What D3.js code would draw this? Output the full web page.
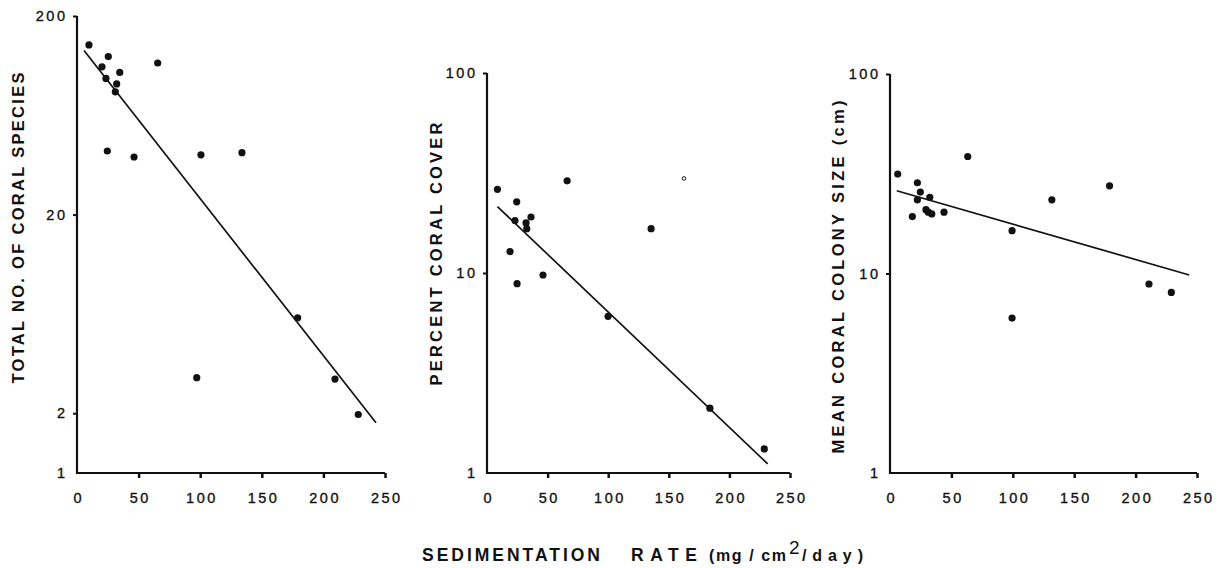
<!DOCTYPE html>
<html>
<head>
<meta charset="utf-8">
<script src="https://cdn.jsdelivr.net/npm/d3@7"></script>
<style>
  html, body { margin:0; padding:0; background:#fff; }
  svg { display:block; }
  text { font-family:"Liberation Sans", Arial, Helvetica, sans-serif; fill:#111; }
</style>
</head>
<body>
<svg id="chart" width="1227" height="568"></svg>
<script>
// ---- data (x = sedimentation rate, mg/cm2/day) ----
// Panel A: total number of coral species
const sedA     = [9.7, 25.4, 20.3, 34.7, 23.5, 32.2, 31.1, 65.5, 24.6, 46.3, 100.6, 133.9, 179.1, 97.2, 209.4, 228.3];
const speciesA = [143, 125, 111, 104, 97, 91, 83, 116, 41.8, 39, 40, 41, 6.05, 3.02, 2.97, 1.97];
const fitA     = [[5.7, 134], [242.7, 1.79]];

// Panel B: percent coral cover (one open-circle point)
const sedB     = [8.6, 66.1, 24.5, 23.1, 36.3, 32.2, 32.8, 135.4, 19.0, 46.2, 24.8, 99.9, 183.9, 228.8];
const coverB   = [26.2, 28.9, 22.7, 18.3, 19.05, 17.8, 16.65, 16.65, 12.8, 9.77, 8.84, 6.07, 2.11, 1.32];
const openB    = [[162.5, 29.7]];
const fitB     = [[8.6, 21.5], [231.6, 1.11]];

// Panel C: mean coral colony size (cm)
const sedC     = [6.3, 63.3, 22.3, 24.7, 32.4, 22.3, 18.2, 29.3, 31.2, 34.0, 44.0, 178.8, 131.8, 99.4, 99.4, 210.9, 229.1];
const sizeC    = [31.5, 38.6, 28.5, 25.6, 24.1, 23.4, 19.3, 20.9, 20.3, 19.9, 20.3, 27.5, 23.4, 16.4, 5.98, 8.86, 8.04];
const fitC     = [[5.5, 26.0], [243.7, 9.83]];

const xTicks = [0, 50, 100, 150, 200, 250];

const panels = [
  { xs:sedA, ys:speciesA, fit:fitA, open:[], yMax:200, yTicks:[1,2,20,200],
    label:'TOTAL NO. OF CORAL SPECIES', labelX:18, labelY:228, labelLen:311,
    left:77, right:385, top:16, bottom:473 },
  { xs:sedB, ys:coverB, fit:fitB, open:openB, yMax:100, yTicks:[1,10,100],
    label:'PERCENT CORAL COVER', labelX:436, labelY:254, labelLen:263,
    left:487, right:790, top:73, bottom:473 },
  { xs:sedC, ys:sizeC, fit:fitC, open:[], yMax:100, yTicks:[1,10,100],
    label:'MEAN CORAL COLONY SIZE (cm)', labelX:838, labelY:277, labelLen:353,
    left:890, right:1197, top:74, bottom:473 }
];

const svg = d3.select('#chart');

function styleTicks(sel){
  sel.attr('font-size', null).attr('font-family', null);
  sel.selectAll('.tick text')
    .style('font-size', '14.5px').style('letter-spacing', '2.5px')
    .attr('fill', '#111').attr('stroke', '#111').attr('stroke-width', 0.35);
}

panels.forEach(p => {
  const x = d3.scaleLinear().domain([0, 250]).range([p.left, p.right]);
  const y = d3.scaleLog().domain([1, p.yMax]).range([p.bottom, p.top]);
  const g = svg.append('g');

  // y axis
  const ay = g.append('g').attr('transform', `translate(${p.left},0)`)
    .call(d3.axisLeft(y).tickValues(p.yTicks).tickFormat(d3.format('d')).tickSize(4).tickPadding(8));
  ay.select('.domain').remove();
  ay.selectAll('.tick line').attr('stroke', '#111').attr('stroke-width', 2)
    .filter(d => d === 1).remove();
  styleTicks(ay);
  ay.selectAll('.tick text').attr('dx', 2.5);

  // x axis
  const ax = g.append('g').attr('transform', `translate(0,${p.bottom})`)
    .call(d3.axisBottom(x).tickValues(xTicks).tickFormat(d3.format('d')).tickSize(5).tickPadding(15));
  ax.select('.domain').remove();
  ax.selectAll('.tick line').attr('stroke', '#111').attr('stroke-width', 2.5)
    .filter(d => d === 0).remove();
  styleTicks(ax);
  ax.selectAll('.tick text').attr('dx', 1.25);

  // axis lines
  g.append('path')
    .attr('d', `M${x(0)},${y(p.yMax)}V${y(1)}H${x(250)}`)
    .attr('fill', 'none').attr('stroke', '#111').attr('stroke-width', 2.2);

  // regression line
  g.append('path')
    .datum(p.fit)
    .attr('d', d3.line().x(d => x(d[0])).y(d => y(d[1])))
    .attr('fill', 'none').attr('stroke', '#111').attr('stroke-width', 1.7);

  // points
  g.selectAll('circle.pt')
    .data(p.xs.map((v, i) => [v, p.ys[i]]))
    .join('circle')
    .attr('class', 'pt')
    .attr('cx', d => x(d[0])).attr('cy', d => y(d[1]))
    .attr('r', 3.6).attr('fill', '#111');

  g.selectAll('circle.open')
    .data(p.open)
    .join('circle')
    .attr('class', 'open')
    .attr('cx', d => x(d[0])).attr('cy', d => y(d[1]))
    .attr('r', 1.8).attr('fill', '#fff').attr('stroke', '#111').attr('stroke-width', 1);

  // y axis title
  svg.append('text')
    .attr('transform', `translate(${p.labelX},${p.labelY}) rotate(-90)`)
    .attr('text-anchor', 'middle').attr('dominant-baseline', 'central')
    .attr('font-size', 16.5).attr('font-weight', 'bold')
    .attr('textLength', p.labelLen).attr('lengthAdjust', 'spacing')
    .text(p.label);
});

// shared x axis title, split into its spaced pieces
const xTitle = [
  { t:'SEDIMENTATION', x:422, len:178, size:17.5 },
  { t:'RATE',          x:631, len:66,  size:17.5 },
  { t:'(mg / cm',      x:709, len:77,  size:16 },
  { t:'/day)',         x:802, len:61,  size:16 }
];
xTitle.forEach(d => {
  svg.append('text')
    .attr('x', d.x).attr('y', 561)
    .attr('font-size', d.size).attr('font-weight', 'bold')
    .attr('textLength', d.len).attr('lengthAdjust', 'spacing')
    .text(d.t);
});
svg.append('text').attr('x', 789).attr('y', 554)
  .attr('font-size', 19).text('2');
</script>
</body>
</html>
